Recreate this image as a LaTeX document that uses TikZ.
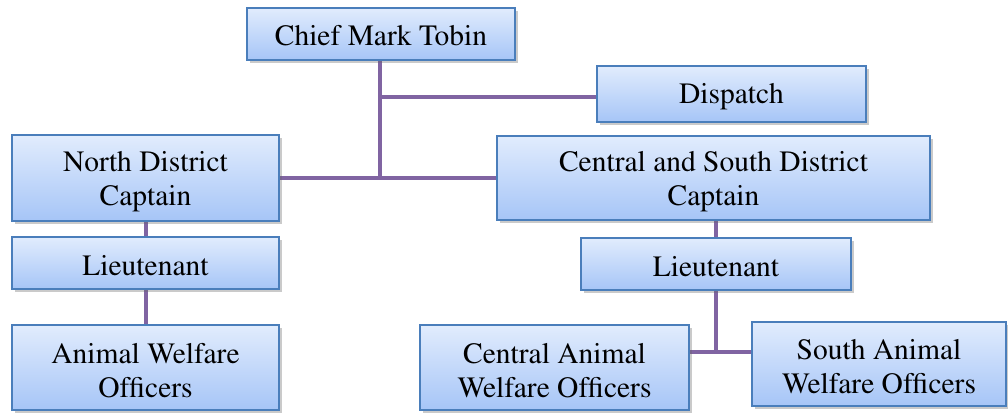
\documentclass[tikz,border=0pt]{standalone}
\usepackage[T1]{fontenc}
\usepackage{mathptmx}
\usetikzlibrary{shadows,backgrounds}
\definecolor{boxtop}{HTML}{E1ECFD}
\definecolor{boxbot}{HTML}{A6C5F7}
\definecolor{boxline}{HTML}{4A7EBB}
\definecolor{conn}{HTML}{8064A2}
\tikzset{
  orgbox/.style={draw=boxline, line width=1.3pt, top color=boxtop, bottom color=boxbot,
    rectangle, inner sep=0pt,
    drop shadow={opacity=0.35, shadow xshift=2.5pt, shadow yshift=-2.5pt, fill=black!60}},
  orgtext/.style={align=center, inner sep=0pt, font=\fontsize{29.5}{34}\selectfont},
  orgline/.style={draw=conn, line width=4pt}
}
\begin{document}
\begin{tikzpicture}[x=1pt,y=-1pt]
\useasboundingbox (0,0) rectangle (1008,413);
\node[orgbox, minimum width=268pt, minimum height=52pt] (chief) at (381,34) {};
\node[orgbox, minimum width=269pt, minimum height=56pt] (disp) at (731.5,94) {};
\node[orgbox, minimum width=267pt, minimum height=86pt] (nc) at (145.5,178) {};
\node[orgbox, minimum width=433pt, minimum height=84pt] (cs) at (713.5,178) {};
\node[orgbox, minimum width=267pt, minimum height=52pt] (ll) at (145.5,263) {};
\node[orgbox, minimum width=270pt, minimum height=52pt] (lr) at (716,264) {};
\node[orgbox, minimum width=267pt, minimum height=85pt] (awo) at (145.5,367.5) {};
\node[orgbox, minimum width=269pt, minimum height=85pt] (cawo) at (554.5,367.5) {};
\node[orgbox, minimum width=254pt, minimum height=84pt] (sawo) at (879,364) {};
\node[orgtext] (chief-t) at ([yshift=-2pt]chief.center) {Chief Mark Tobin};
\node[orgtext] (disp-t) at ([yshift=-3pt]disp.center) {Dispatch};
\node[orgtext] (nc-t) at ([yshift=-4pt]nc.center) {North District\\Captain};
\node[orgtext] (cs-t) at ([yshift=-4pt]cs.center) {Central and South District\\Captain};
\node[orgtext] (ll-t) at ([yshift=-3pt]ll.center) {Lieutenant};
\node[orgtext] (lr-t) at ([yshift=-3pt]lr.center) {Lieutenant};
\node[orgtext] (awo-t) at ([yshift=-3pt]awo.center) {Animal Welfare\\Officers};
\node[orgtext] (cawo-t) at ([yshift=-3pt]cawo.center) {Central Animal\\Welfare Officers};
\node[orgtext] (sawo-t) at ([yshift=-3pt]sawo.center) {South Animal\\Welfare Officers};
\coordinate (dj) at (380,97);
\begin{scope}[on background layer]
\draw[orgline] (chief.south -| dj) -- (nc.east -| dj);
\draw[orgline] (nc.east) -- (cs.west);
\draw[orgline] (dj) -- (disp.west |- dj);
\draw[orgline] (nc.south) -- (ll.north);
\draw[orgline] (ll.south) -- (awo.north);
\draw[orgline] (lr.north) -- (lr.north |- cs.south);
\coordinate (bj) at (716,352);
\draw[orgline] (lr.south) -- (bj);
\draw[orgline] (cawo.east |- bj) -- (sawo.west |- bj);
\end{scope}
\end{tikzpicture}
\end{document}
